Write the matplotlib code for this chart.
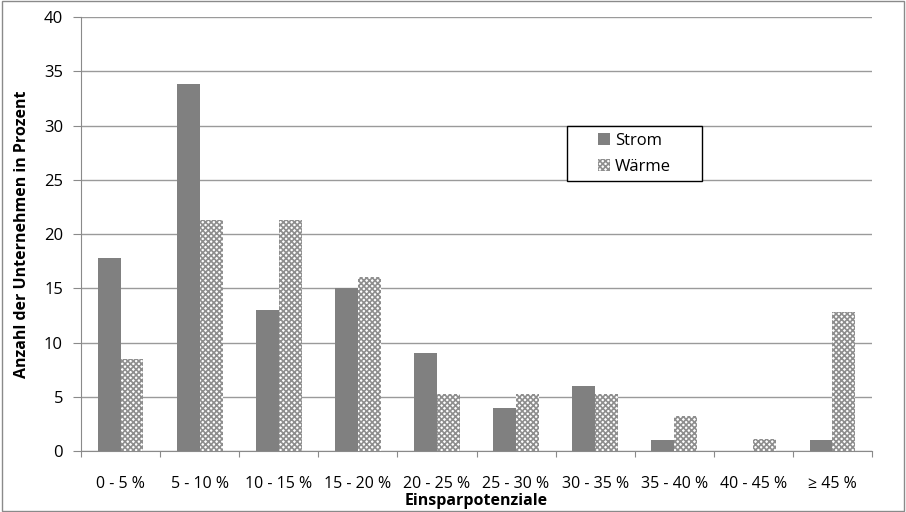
import matplotlib.pyplot as plt
import numpy as np
from matplotlib.patches import Rectangle

# Einsparpotenziale je Energieart
categories = ['0 - 5 %', '5 - 10 %', '10 - 15 %', '15 - 20 %', '20 - 25 %',
              '25 - 30 %', '30 - 35 %', '35 - 40 %', '40 - 45 %', '≥ 45 %']
strom = [17.8, 33.8, 13.0, 15.0, 9.0, 4.0, 6.0, 1.0, 0.0, 1.0]
waerme = [8.5, 21.3, 21.3, 16.0, 5.3, 5.3, 5.3, 3.2, 1.1, 12.8]

plt.rcParams['font.family'] = ['Open Sans', 'DejaVu Sans']
plt.rcParams['hatch.linewidth'] = 1.2

fig = plt.figure(figsize=(9.06, 5.12), dpi=100)
ax = fig.add_axes([0.0894, 0.1191, 0.8731, 0.8477])

index = np.arange(len(categories))
bar_width = 0.29

ax.bar(index - bar_width / 2, strom, bar_width, color='#808080',
       label='Strom', zorder=3)
ax.bar(index + bar_width / 2, waerme, bar_width, facecolor='white',
       edgecolor='#8e8e8e', hatch='xxxxxx', linewidth=0,
       label='Wärme', zorder=3)

ax.set_xlim(-0.5, len(categories) - 0.5)
ax.set_ylim(0, 40)
ax.set_yticks(np.arange(0, 41, 5))
ax.yaxis.grid(True, color='#9a9a9a', linewidth=1.0, zorder=0)

# Teilstriche zwischen den Gruppen, Beschriftung in der Mitte
ax.set_xticks(np.arange(-0.5, len(categories)), minor=False)
ax.set_xticklabels([])
ax.set_xticks(index, minor=True)
ax.set_xticklabels(categories, minor=True)
ax.tick_params(axis='x', which='major', length=4.5, color='#8a8a8a')
ax.tick_params(axis='x', which='minor', length=0, labelsize=11.5, pad=18)
ax.tick_params(axis='y', length=6, color='#8a8a8a', labelsize=12, pad=7)

for side in ['top', 'right']:
    ax.spines[side].set_visible(False)
for side in ['left', 'bottom']:
    ax.spines[side].set_color('#8a8a8a')

ax.set_ylabel('Anzahl der Unternehmen in Prozent', fontsize=11.5,
              fontweight='bold', labelpad=10)
ax.set_xlabel('Einsparpotenziale', fontsize=11.5, fontweight='bold', labelpad=1)

# Legende mit eigenem, breiterem Rahmen
ax.add_patch(Rectangle((0.6144, 0.622), 0.1706, 0.1268, transform=ax.transAxes,
                       fill=True, facecolor='white', edgecolor='black',
                       linewidth=1.0, zorder=4))
leg = ax.legend(loc='center', bbox_to_anchor=(0.700, 0.685),
                fontsize=12, frameon=False,
                handlelength=0.7, handleheight=0.7, handletextpad=0.3,
                borderpad=0, labelspacing=0.6, borderaxespad=0)
leg.set_zorder(5)

# Rahmen um die gesamte Grafik
fig.patches.append(Rectangle((0.002, 0.002), 0.996, 0.996,
                             transform=fig.transFigure, fill=False,
                             edgecolor='#8a8a8a', linewidth=1.0))

plt.savefig('out.png', dpi=100)
